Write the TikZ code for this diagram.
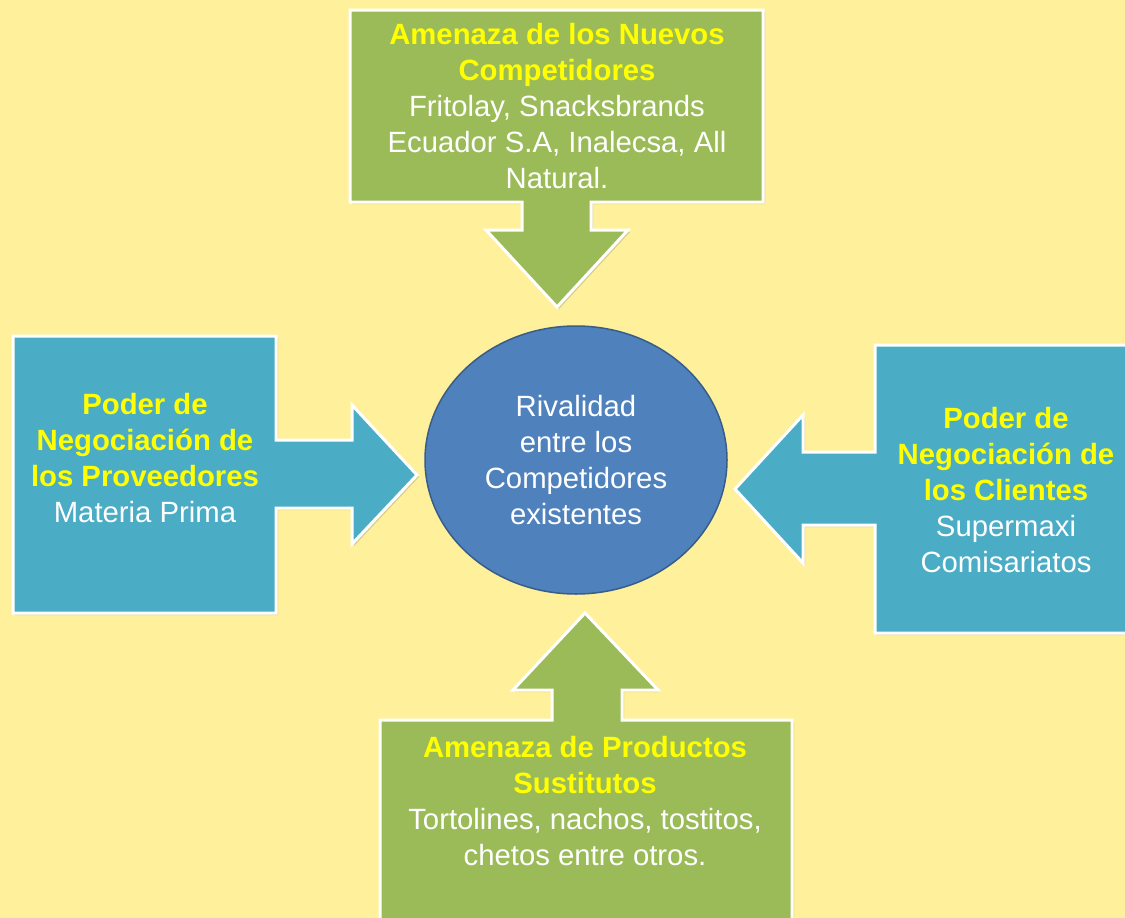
\documentclass[tikz,border=0pt]{standalone}
\usepackage{fontspec}
\setmainfont{Liberation Sans}
\usetikzlibrary{shadows,shapes.geometric}
\definecolor{fondo}{HTML}{FFF09B}
\definecolor{verde}{HTML}{9BBB59}
\definecolor{azul}{HTML}{4BACC6}
\definecolor{rival}{HTML}{4F81BD}
\definecolor{rivalborde}{HTML}{385D8A}
\definecolor{titulo}{HTML}{FFFF00}
\newcommand{\fuerza}[1]{{\bfseries\color{titulo}#1}}
\tikzset{
  callout/.style={draw=white, line width=3pt, line join=miter,
    drop shadow={shadow xshift=2pt, shadow yshift=-2pt, opacity=0.25, fill=black!60}},
  texto/.style={text=white, align=center, font=\fontsize{29.3pt}{36pt}\selectfont, inner sep=0pt}
}
\begin{document}
\begin{tikzpicture}[x=1pt,y=-1pt]
\fill[fondo] (0,0) rectangle (1125,918);
\useasboundingbox (0,0) rectangle (1125,918);
\begin{scope}
\clip (0,0) rectangle (1125,918);
% nuevos competidores (arriba)
\fill[verde,callout] (350,10) -- (763,10) -- (763,202) -- (591,202) -- (591,230) -- (628,230)
  -- (557,307) -- (486,230) -- (522,230) -- (522,202) -- (350,202) -- cycle;
% proveedores (izquierda)
\fill[azul,callout] (13,336) -- (276,336) -- (276,440) -- (352,440) -- (352,405) -- (417,475)
  -- (352,544) -- (352,508) -- (276,508) -- (276,613) -- (13,613) -- cycle;
% clientes (derecha)
\fill[azul,callout] (1140,345) -- (875,345) -- (875,452) -- (803,452) -- (803,415) -- (735,489)
  -- (803,563) -- (803,525) -- (875,525) -- (875,633) -- (1140,633) -- cycle;
% sustitutos (abajo)
\fill[verde,callout] (380,935) -- (380,720) -- (552,720) -- (552,690) -- (513,690) -- (585,613)
  -- (658,690) -- (622,690) -- (622,720) -- (792,720) -- (792,935) -- cycle;
\end{scope}
\node[ellipse, fill=rival, draw=rivalborde, line width=1.5pt, minimum width=302pt,
  minimum height=268pt, inner sep=0pt] (rivalidad) at (576,460) {};
\node[texto] (trivalidad) at (rivalidad.center) {Rivalidad\\entre los\\Competidores\\existentes};
\node[texto] (nuevos) at (557,106) {\fuerza{Amenaza de los Nuevos}\\\fuerza{Competidores}\\Fritolay, Snacksbrands\\Ecuador S.A, Inalecsa, All\\Natural.};
\node[texto] (proveedores) at (145,458) {\fuerza{Poder de}\\\fuerza{Negociación de}\\\fuerza{los Proveedores}\\Materia Prima};
\node[texto] (clientes) at (1006,490) {\fuerza{Poder de}\\\fuerza{Negociación de}\\\fuerza{los Clientes}\\Supermaxi\\Comisariatos};
\node[texto] (sustitutos) at (585,801) {\fuerza{Amenaza de Productos}\\\fuerza{Sustitutos}\\Tortolines, nachos, tostitos,\\chetos entre otros.};
\end{tikzpicture}
\end{document}
